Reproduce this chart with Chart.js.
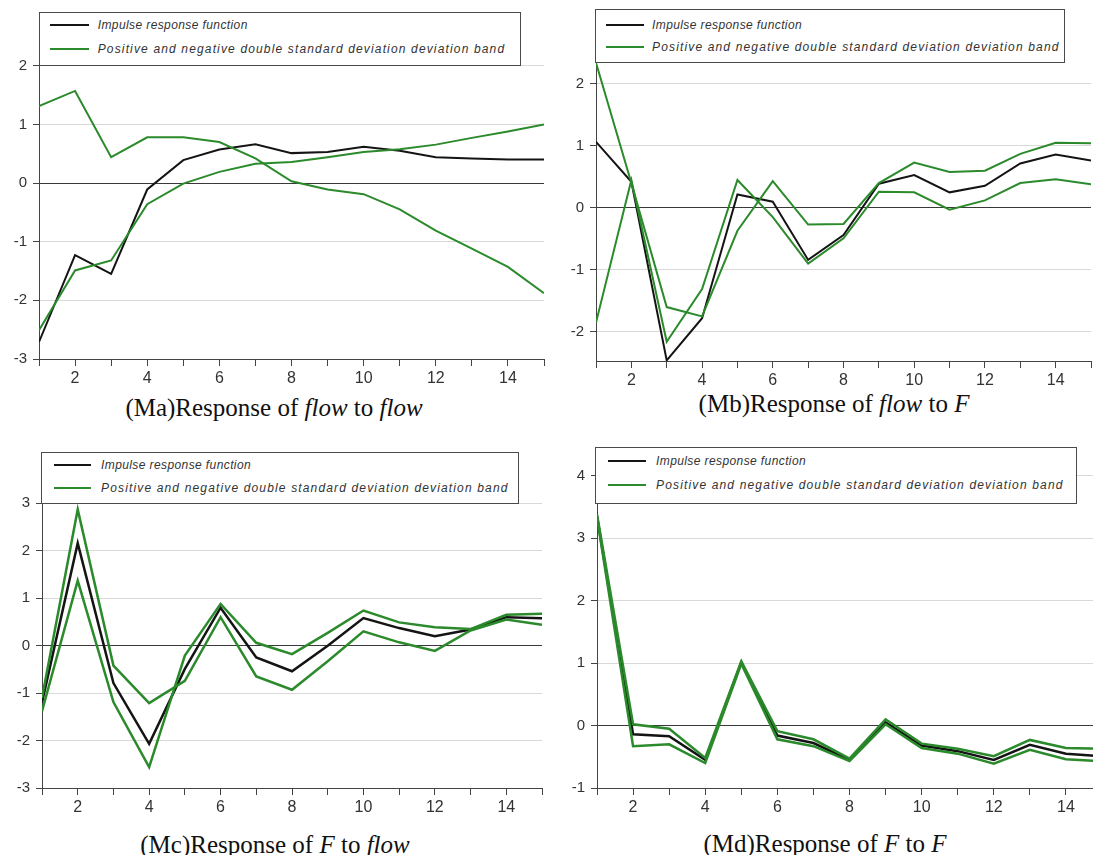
<!DOCTYPE html>
<html>
<head>
<meta charset="utf-8">
<script src="https://cdn.jsdelivr.net/npm/chart.js@4.4.1/dist/chart.umd.min.js"></script>
<style>
  html, body { margin:0; padding:0; background:#fff; }
  body { width:1093px; height:855px; overflow:hidden; position:relative; }
  .cv { position:absolute; }
  .legend { position:absolute; background:#fff; border:1px solid #4a4a4a; box-sizing:border-box; }
  .row { position:absolute; left:0; right:0; height:16px; }
  .sw { position:absolute; top:7px; height:2px; }
  .lt { position:absolute; top:0; font-family:"Liberation Sans", Arial, sans-serif; font-style:italic; font-size:12px; line-height:16px; color:#333; white-space:nowrap; }
  .cap { position:absolute; font-family:"Liberation Serif", "Times New Roman", serif; font-size:25px; color:#111; white-space:nowrap; transform:translate(-50%,-50%); }
</style>
</head>
<body>
<div class="cap" style="left:274px;top:408px;">(Ma)Response of <i>flow</i> to <i>flow</i></div>
<div class="cap" style="left:834px;top:404px;">(Mb)Response of <i>flow</i> to <i>F</i></div>
<div class="cap" style="left:275px;top:845px;">(Mc)Response of <i>F</i> to <i>flow</i></div>
<div class="cap" style="left:825px;top:844px;">(Md)Response of <i>F</i> to <i>F</i></div>
<script>
// ---------- data ----------
const periods = [1,2,3,4,5,6,7,8,9,10,11,12,13,14,15];
const legendLabels = ['Impulse response function', 'Positive and negative double standard deviation deviation band'];

// (Ma) Response of flow to flow
const maIRF   = [-2.71,-1.23,-1.55,-0.11,0.39,0.57,0.66,0.51,0.53,0.62,0.55,0.44,0.42,0.40,0.40];
const maBand1 = [1.31,1.57,0.44,0.78,0.78,0.70,0.42,0.03,-0.11,-0.19,-0.45,-0.81,-1.12,-1.43,-1.88];
const maBand2 = [-2.51,-1.49,-1.32,-0.36,-0.01,0.19,0.33,0.36,0.44,0.53,0.575,0.655,0.77,0.88,1.00];
const maYTicks = [-3,-2,-1,0,1,2];

// (Mb) Response of flow to F
const mbIRF   = [1.065,0.42,-2.46,-1.78,0.215,0.10,-0.84,-0.44,0.39,0.53,0.25,0.355,0.715,0.86,0.765];
const mbBand1 = [2.34,0.40,-1.60,-1.75,-0.37,0.43,-0.27,-0.26,0.40,0.73,0.58,0.60,0.87,1.05,1.04];
const mbBand2 = [-1.85,0.45,-2.16,-1.31,0.45,-0.15,-0.90,-0.49,0.26,0.25,-0.03,0.12,0.40,0.46,0.38];
const mbYTicks = [-2,-1,0,1,2];

// (Mc) Response of F to flow
const mcIRF   = [-1.20,2.16,-0.79,-2.07,-0.49,0.80,-0.25,-0.54,0.00,0.58,0.37,0.20,0.34,0.60,0.58];
const mcBand1 = [-1.10,2.87,-0.42,-1.21,-0.74,0.60,-0.65,-0.93,-0.33,0.30,0.07,-0.11,0.32,0.55,0.44];
const mcBand2 = [-1.38,1.37,-1.19,-2.56,-0.21,0.88,0.06,-0.18,0.27,0.74,0.49,0.39,0.35,0.65,0.67];
const mcYTicks = [-3,-2,-1,0,1,2,3];

// (Md) Response of F to F
const mdIRF   = [3.35,-0.14,-0.17,-0.55,1.01,-0.16,-0.28,-0.55,0.05,-0.32,-0.41,-0.55,-0.31,-0.45,-0.49];
const mdBand1 = [3.38,0.02,-0.05,-0.52,1.03,-0.09,-0.22,-0.53,0.10,-0.29,-0.37,-0.49,-0.23,-0.36,-0.37];
const mdBand2 = [3.33,-0.33,-0.30,-0.60,0.99,-0.22,-0.33,-0.57,0.02,-0.36,-0.45,-0.61,-0.39,-0.54,-0.57];
const mdYTicks = [-1,0,1,2,3,4];

// ---------- layout / styles ----------
const BLACK = '#141414', GREEN = '#2b8a2b';
const panels = [
  { irf: maIRF, b1: maBand1, b2: maBand2, yt: maYTicks, min:-3, max:2.916, left:-1, top:12, w:551, h:387, lw:2,
    lg:{left:39, top:12, w:482, h:54, rows:[12,35.7], swL:10, swW:39, tx:57.7} },
  { irf: mbIRF, b1: mbBand1, b2: mbBand2, yt: mbYTicks, min:-2.47, max:3.207, left:556, top:9, w:541, h:392, lw:2,
    lg:{left:595, top:9, w:470, h:54, rows:[14.7,37.4], swL:10, swW:38, tx:56} },
  { irf: mcIRF, b1: mcBand1, b2: mcBand2, yt: mcYTicks, min:-3, max:4.081, left:2, top:452, w:546, h:376, lw:2.5,
    lg:{left:41, top:452, w:478, h:52, rows:[12.3,35], swL:12, swW:37, tx:59} },
  { irf: mdIRF, b1: mdBand1, b2: mdBand2, yt: mdYTicks, min:-1, max:4.46, left:557, top:447, w:551, h:381, lw:2.5,
    lg:{left:595, top:447, w:482, h:57, rows:[12.6,36.6], swL:12, swW:37.6, tx:60} }
];

function pts(arr){ return periods.map((p,i)=>({x:p, y:arr[i]})); }
function noPad(s){ s.paddingTop = 0; s.paddingBottom = 0; s.paddingLeft = 0; s.paddingRight = 0; }

panels.forEach(P => {
  const c = document.createElement('canvas');
  c.className = 'cv';
  c.width = P.w; c.height = P.h;
  c.style.left = P.left + 'px'; c.style.top = P.top + 'px';
  c.style.width = P.w + 'px'; c.style.height = P.h + 'px';
  document.body.appendChild(c);

  const ds = (data, color) => ({ data: pts(data), borderColor: color, borderWidth: P.lw, pointRadius: 0, tension: 0, fill: false });
  new Chart(c.getContext('2d'), {
    type: 'line',
    data: { datasets: [ ds(P.b1, GREEN), ds(P.b2, GREEN), ds(P.irf, BLACK) ] },
    options: {
      responsive: false, animation: false, devicePixelRatio: 1,
      layout: { padding: { left: 0, right: 6, top: 0, bottom: 0 } },
      plugins: { legend: { display: false }, tooltip: { enabled: false } },
      scales: {
        x: {
          type: 'linear', min: 1, max: 15,
          ticks: { stepSize: 1, autoSkip: false, maxRotation: 0, padding: 3,
                   color: '#333', font: { family: 'Liberation Sans, Arial, sans-serif', size: 16 },
                   callback: v => (v % 2 === 0 ? String(v) : '') },
          grid: { drawOnChartArea: false, drawTicks: true, tickLength: 7, tickColor: '#444' },
          border: { color: '#444', width: 1 },
          afterFit: s => { s.height = 40; noPad(s); }
        },
        y: {
          type: 'linear', min: P.min, max: P.max,
          afterBuildTicks: s => { s.ticks = P.yt.map(v => ({ value: v })); },
          ticks: { padding: 6, color: '#333', font: { family: 'Liberation Sans, Arial, sans-serif', size: 15 },
                   callback: v => String(v) },
          grid: { drawTicks: true, tickLength: 6, tickColor: '#444',
                  color: ctx => (ctx.tick && ctx.tick.value === 0 ? '#3a3a3a' : '#d9d9d9'), lineWidth: 1 },
          border: { color: '#444', width: 1 },
          afterFit: s => { s.width = 40; noPad(s); }
        }
      }
    }
  });

  const L = P.lg;
  const lg = document.createElement('div');
  lg.className = 'legend';
  lg.style.left = L.left + 'px'; lg.style.top = L.top + 'px';
  lg.style.width = L.w + 'px'; lg.style.height = L.h + 'px';
  [BLACK, GREEN].forEach((col, i) => {
    const r = document.createElement('div');
    r.className = 'row';
    r.style.top = (L.rows[i] - 8) + 'px';
    const sw = document.createElement('div');
    sw.className = 'sw';
    sw.style.left = L.swL + 'px'; sw.style.width = L.swW + 'px'; sw.style.background = col;
    const t = document.createElement('div');
    t.className = 'lt';
    t.style.left = L.tx + 'px';
    t.style.letterSpacing = i === 0 ? '0.4px' : '1.15px';
    t.textContent = legendLabels[i];
    r.appendChild(sw); r.appendChild(t);
    lg.appendChild(r);
  });
  document.body.appendChild(lg);
});
</script>
</body>
</html>
